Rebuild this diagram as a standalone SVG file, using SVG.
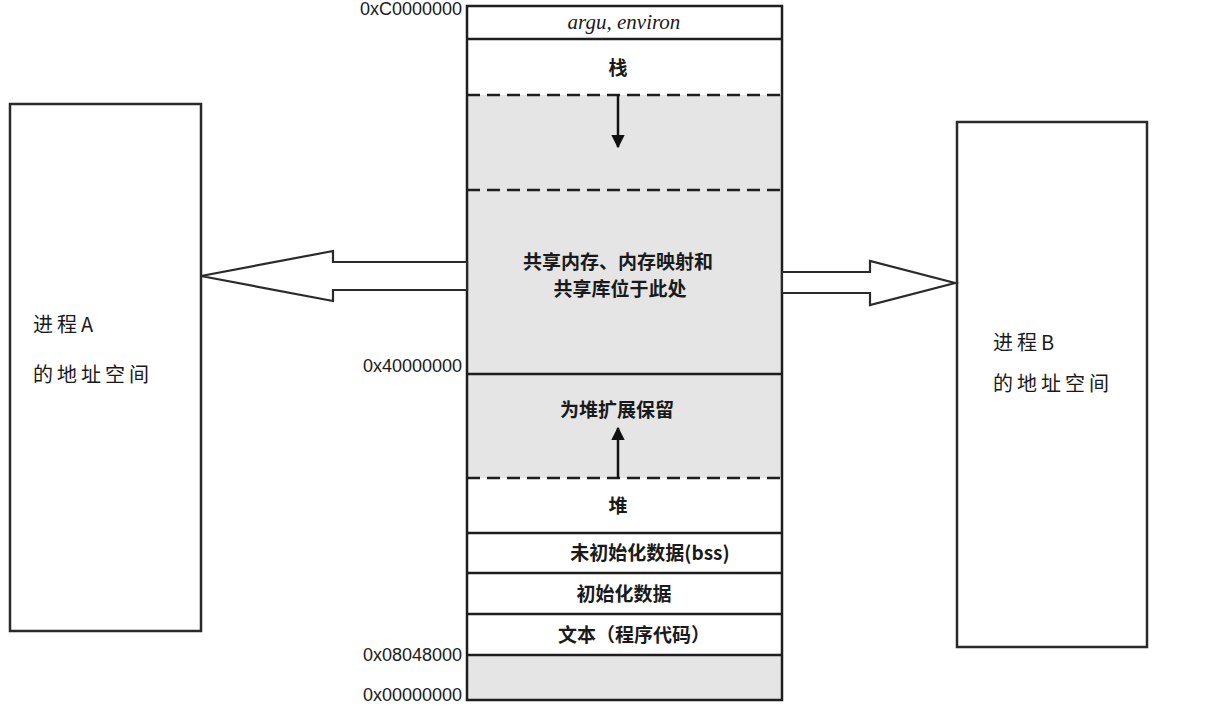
<svg xmlns="http://www.w3.org/2000/svg" width="1227" height="722" viewBox="0 0 1227 722">
<defs>
<style>
.bg{fill:#ffffff}
.gray{fill:#e5e5e5;stroke:none}
.seg{fill:none;stroke:#1e1e1e;stroke-width:2.5}
.dash{stroke:#1e1e1e;stroke-width:2.5;stroke-dasharray:13 7;fill:none}
.box{fill:#ffffff;stroke:#2a2a2a;stroke-width:2.5}
.cn{font-family:"Noto Sans CJK SC","Noto Sans",sans-serif;font-weight:700;font-size:19px;fill:#1a1a1a;text-anchor:middle}
.addr{font-family:"Liberation Sans","DejaVu Sans",sans-serif;font-size:18px;fill:#1a1a1a;text-anchor:end}
.side{font-family:"Noto Sans CJK SC","Noto Sans",sans-serif;font-size:20px;fill:#1a1a1a;letter-spacing:4px}
.conn{fill:#ffffff;stroke:#2a2a2a;stroke-width:2.2;stroke-linejoin:miter}
.grow{stroke:#111;stroke-width:2.5;fill:none}
</style>
<marker id="ah" viewBox="0 0 10 10" refX="9" refY="5" markerWidth="5.5" markerHeight="6" orient="auto" markerUnits="strokeWidth">
<path d="M0,0 L10,5 L0,10 Z" fill="#111"/>
</marker>
</defs>
<rect class="bg" x="0" y="0" width="1227" height="722"/>

<g id="processA">
<rect class="box" x="10" y="104" width="191" height="527"/>
<text class="side" x="33" y="332">进程A</text>
<text class="side" x="33" y="382">的地址空间</text>
</g>

<g id="processB">
<rect class="box" x="957" y="122" width="190" height="525"/>
<text class="side" x="993" y="350">进程B</text>
<text class="side" x="993" y="391">的地址空间</text>
</g>

<g id="memory">
<rect class="gray" x="467" y="95" width="315" height="383"/>
<rect class="gray" x="467" y="655" width="315" height="45"/>
<g id="seg-argv">
<text x="624" y="29" font-family="Liberation Serif,serif" font-style="italic" font-size="21" fill="#1a1a1a" text-anchor="middle">argu, environ</text>
</g>
<g id="seg-stack"><text class="cn" x="618" y="75">栈</text></g>
<g id="seg-shared">
<text class="cn" x="618" y="269">共享内存、内存映射和</text>
<text class="cn" x="620" y="296">共享库位于此处</text>
</g>
<g id="seg-heapres"><text class="cn" x="617" y="417">为堆扩展保留</text></g>
<g id="seg-heap"><text class="cn" x="618" y="513">堆</text></g>
<g id="seg-bss"><text class="cn" x="650" y="560">未初始化数据(bss)</text></g>
<g id="seg-data"><text class="cn" x="624" y="601">初始化数据</text></g>
<g id="seg-text"><text class="cn" x="634" y="642">文本（程序代码）</text></g>
<line class="seg" x1="467" y1="39" x2="782" y2="39"/>
<line class="dash" x1="467" y1="95" x2="780" y2="95"/>
<line class="dash" x1="467" y1="190" x2="780" y2="190"/>
<line class="seg" x1="467" y1="374" x2="782" y2="374"/>
<line class="dash" x1="467" y1="478" x2="780" y2="478"/>
<line class="seg" x1="467" y1="533" x2="782" y2="533"/>
<line class="seg" x1="467" y1="573" x2="782" y2="573"/>
<line class="seg" x1="467" y1="614" x2="782" y2="614"/>
<line class="seg" x1="467" y1="655" x2="782" y2="655"/>
<rect class="seg" x="467" y="6" width="315" height="694"/>
<line class="grow" x1="618" y1="95" x2="618" y2="147" marker-end="url(#ah)"/>
<line class="grow" x1="618" y1="478" x2="618" y2="428" marker-end="url(#ah)"/>
</g>

<g id="addresses">
<text class="addr" x="462" y="15">0xC0000000</text>
<text class="addr" x="462" y="372">0x40000000</text>
<text class="addr" x="462" y="661">0x08048000</text>
<text class="addr" x="462" y="701">0x00000000</text>
</g>

<g id="connectors">
<polygon class="conn" points="201,276 333,251 333,262 467,262 467,290 333,290 333,301"/>
<polygon class="conn" points="782,272 870,272 870,261 955,283 870,305 870,293 782,293"/>
</g>
</svg>
